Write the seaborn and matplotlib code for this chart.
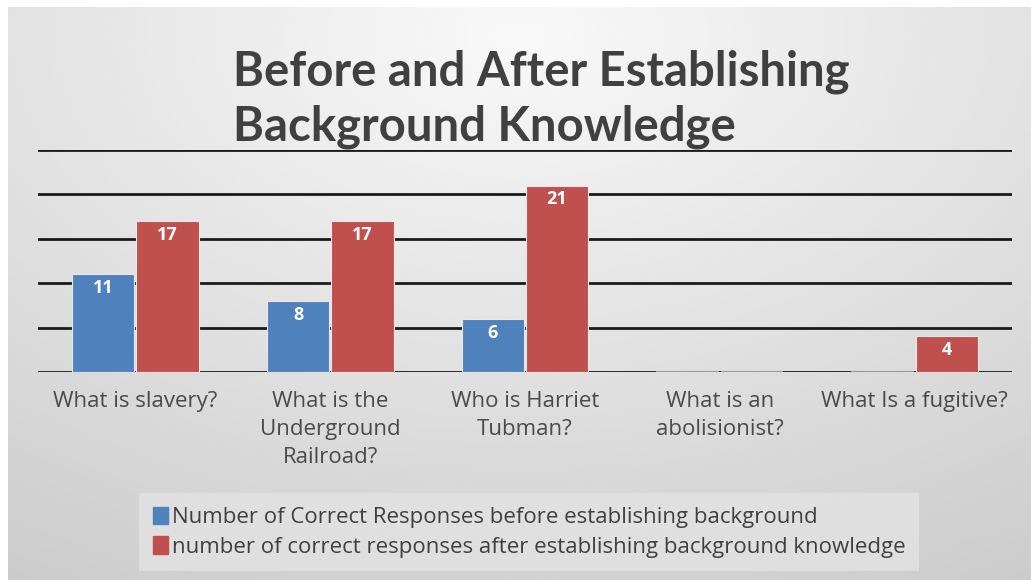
import numpy as np
import pandas as pd
import matplotlib
matplotlib.use("Agg")
import matplotlib.pyplot as plt
import seaborn as sns

# chart data
questions = ["What is slavery?", "What is the\nUnderground\nRailroad?", "Who is Harriet\nTubman?",
             "What is an\nabolisionist?", "What Is a fugitive?"]
before = [11, 8, 6, 0, 0]
after = [17, 17, 21, 0, 4]
series_names = ["Number of Correct Responses before establishing background",
                "number of correct responses after establishing background knowledge"]
colors = ["#4f81bd", "#c0504d"]

df = pd.DataFrame({
    "question": questions * 2,
    "count": before + after,
    "series": [series_names[0]] * len(questions) + [series_names[1]] * len(questions),
})

sns.set_theme(style="white")
plt.rcParams["font.family"] = ["Open Sans", "DejaVu Sans"]

fig = plt.figure(figsize=(10.31, 5.8), dpi=100, facecolor="white")

# soft gray gradient background like the slide
bg = fig.add_axes([0.008, 0, 0.992, 0.988], zorder=-1)
yy, xx = np.mgrid[0:1:200j, 0:1:360j]
r = np.sqrt(((xx - 0.5) * 1.1) ** 2 + (yy - 0.05) ** 2)
shade = np.clip(0.975 - 0.16 * r, 0.80, 1.0)
bg.imshow(shade, cmap="gray", vmin=0, vmax=1, aspect="auto", interpolation="bicubic")
bg.set_axis_off()

ax = fig.add_axes([38 / 1031, 1 - 372 / 580, 974 / 1031, 222 / 580])
ax.patch.set_alpha(0)
sns.barplot(data=df, x="question", y="count", hue="series", palette=colors, saturation=1,
            width=0.66, gap=0.03, ax=ax, legend=True, zorder=3, edgecolor="#e8e8e8", linewidth=0.8)

ax.set_xlim(-0.5, 4.5)
ax.set_ylim(0, 25)
ax.set_yticks([0, 5, 10, 15, 20, 25])
ax.yaxis.grid(True, color="#1a1a1a", linewidth=2)
ax.xaxis.grid(False)
ax.set_axisbelow(True)
for s in ax.spines.values():
    s.set_visible(False)
ax.set_yticklabels([])
ax.tick_params(left=False, bottom=False)
ax.set_xlabel("")
ax.set_ylabel("")
for lab in ax.get_xticklabels():
    lab.set_fontsize(16)
    lab.set_color("#4a4a4a")
    lab.set_linespacing(1.42)
    lab.set_verticalalignment("top")
ax.tick_params(axis="x", pad=8)

# value labels inside the bars, zero bars as a thin gray line
for bar in ax.patches:
    h = bar.get_height()
    if np.isnan(h):
        continue
    if h == 0:
        bar.set_edgecolor("#9a9a9a")
        bar.set_linewidth(1.5)
        continue
    ax.text(bar.get_x() + bar.get_width() / 2, h - 0.55, f"{int(h)}", ha="center", va="top",
            color="white", fontsize=13, fontweight="bold", zorder=4)

ax.legend_.remove()
handles = [plt.Rectangle((0, 0), 1, 1, color=c) for c in colors]
leg = fig.legend(handles, series_names, loc="upper left", bbox_to_anchor=(146 / 1031, 1 - 500 / 580),
                 frameon=True, fontsize=16, handlelength=0.7, handleheight=0.85, handletextpad=0.15,
                 labelspacing=0.35, borderpad=0.3, borderaxespad=0)
leg.get_frame().set_facecolor("#e3e3e3")
leg.get_frame().set_edgecolor("none")
leg.get_frame().set_boxstyle("square", pad=0.3)
for t in leg.get_texts():
    t.set_color("#404040")

fig.text(233 / 1031, 1 - 49 / 580, "Before and After Establishing\nBackground Knowledge",
         ha="left", va="top", fontsize=34, fontweight="bold", color="#404040",
         linespacing=1.3, family=["Lato", "DejaVu Sans"])

fig.savefig("out.png", dpi=100)
